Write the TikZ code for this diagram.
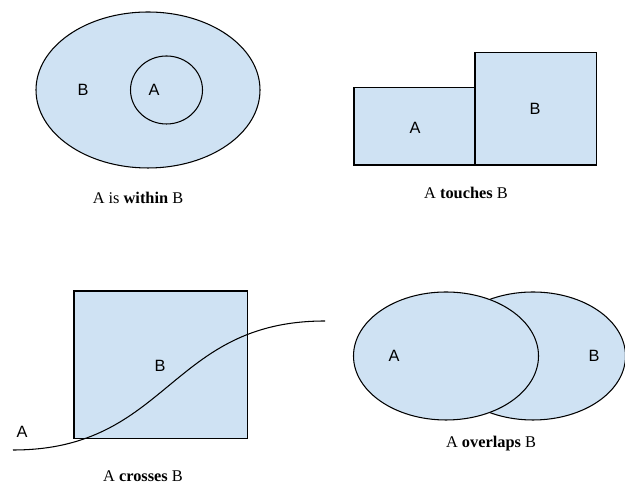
\documentclass[tikz,border=0pt]{standalone}
\usepackage{fontspec}
\setmainfont{Liberation Serif}
\newfontfamily\lblfont{Liberation Sans}
\definecolor{regionblue}{HTML}{CFE2F3}
\begin{document}
\begin{tikzpicture}[line width=0.6pt,
    region/.style={draw, fill=regionblue},
    lbl/.style={font=\lblfont\fontsize{9.3}{11}\selectfont},
    capt/.style={font=\fontsize{9.3}{11}\selectfont}]
    \useasboundingbox (0,0) rectangle (12.5,9.68);

    % A dentro B
    \draw[region] (2.96,7.88) ellipse [x radius=2.24, y radius=1.56];
    \draw[region] (3.33,7.88) ellipse [x radius=0.72, y radius=0.68];
    \node[lbl] (inB) at (1.66,7.88) {B};
    \node[lbl] (inA) at (3.08,7.88) {A};
    \node[capt] (inCapt) at (2.76,5.72) {A is \textbf{within} B};

    % A tocca B
    \draw[region] (7.08,6.38) rectangle (9.5,7.926);
    \draw[region] (9.5,6.38) rectangle (11.934,8.634);
    \node[lbl] (toA) at (8.3,7.12) {A};
    \node[lbl] (toB) at (10.7,7.5) {B};
    \node[capt] (toCapt) at (9.32,5.82) {A \textbf{touches} B};

    % A attraversa B
    \draw[region] (1.48,0.914) rectangle (4.946,3.86);
    \coordinate (crStart) at (0.26,0.68);
    \coordinate (crEnd) at (6.5,3.26);
    \draw (crStart) .. controls (3.38,0.68) and (3.38,3.26) .. (crEnd);
    \node[lbl] (crA) at (0.44,1.04) {A};
    \node[lbl] (crB) at (3.2,2.36) {B};
    \node[capt] (crCapt) at (2.86,0.16) {A \textbf{crosses} B};

    % A sovrapposto a B
    \draw[region] (10.66,2.56) ellipse [x radius=1.85, y radius=1.28];
    \draw[region] (8.92,2.56) ellipse [x radius=1.85, y radius=1.28];
    \node[lbl] (ovA) at (7.88,2.56) {A};
    \node[lbl] (ovB) at (11.88,2.56) {B};
    \node[capt] (ovCapt) at (9.82,0.8) {A \textbf{overlaps} B};
\end{tikzpicture}
\end{document}
